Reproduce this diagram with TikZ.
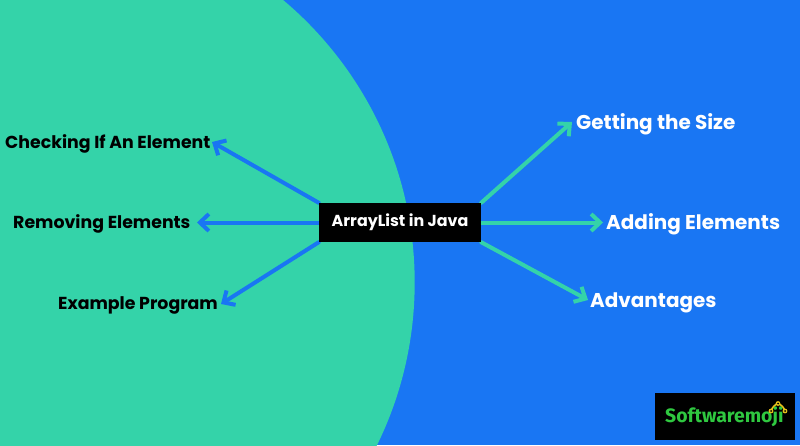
\documentclass[tikz,border=0pt]{standalone}
\usepackage{fontspec}
\setmainfont{Poppins}
\newfontfamily\logofont{Fira Sans}
\usetikzlibrary{arrows.meta}
\definecolor{bluebg}{HTML}{1976F3}
\definecolor{teal}{HTML}{34D3A9}
\definecolor{logogreen}{HTML}{2FC840}
\definecolor{logoyellow}{HTML}{E8C21A}
\pgfdeclarelayer{bg}
\pgfdeclarelayer{arrowlayer}
\pgfsetlayers{bg,arrowlayer,main}
\tikzset{
  lblblack/.style={font=\bfseries\fontsize{17.35}{20}\selectfont, inner sep=0pt, anchor=mid west, text=black},
  lblwhite/.style={font=\bfseries\fontsize{19.95}{22}\selectfont, inner sep=0pt, anchor=mid west, text=white},
  bluearrow/.style={draw=bluebg, line width=4pt, -{Straight Barb[length=9pt,width=17pt,line width=4pt]}, line cap=round},
  tealarrow/.style={draw=teal, line width=4pt, -{Straight Barb[length=9pt,width=17pt,line width=4pt]}, line cap=round},
}
\begin{document}
\begin{tikzpicture}[x=1pt,y=-1pt]
\useasboundingbox (0,0) rectangle (800,445);
\begin{pgfonlayer}{bg}
\fill[bluebg] (0,0) rectangle (800,445);
\begin{scope}
\clip (0,0) rectangle (800,445);
\fill[teal] (45.7,282.5) circle [radius=369pt];
\end{scope}
\end{pgfonlayer}
\node[fill=black, minimum width=162pt, minimum height=39pt, inner sep=0pt, text=white, font=\bfseries\fontsize{15.9}{18}\selectfont] (box) at (400,222.5) {ArrayList in Java};
\node[lblblack] (chk) at (5,146) {Checking If An Element};
\node[lblblack] (rem) at (13,225.5) {Removing Elements};
\node[lblblack] (exa) at (58,307) {Example Program};
\node[lblwhite] (get) at (576,126.5) {Getting the Size};
\node[lblwhite] (add) at (606,226.5) {Adding Elements};
\node[lblwhite] (adv) at (590,304.5) {Advantages};
\coordinate (tchk) at (212,142);
\coordinate (trem) at (197,222.5);
\coordinate (texa) at (221,304);
\coordinate (tget) at (572,122);
\coordinate (tadd) at (603,222.5);
\coordinate (tadv) at (588,300);
\begin{pgfonlayer}{arrowlayer}
\draw[bluearrow] (box.north west) -- (tchk);
\draw[bluearrow] (box.west) -- (trem);
\draw[bluearrow] (box.south west) -- (texa);
\draw[tealarrow] (box.north east) -- (tget);
\draw[tealarrow] (box.east) -- (tadd);
\draw[tealarrow] (box.south east) -- (tadv);
\end{pgfonlayer}
\node[fill=black, minimum width=140pt, minimum height=47pt, inner sep=0pt] (logo) at (725,416.5) {};
\node[inner sep=0pt, anchor=mid west, text=logogreen, font=\logofont\bfseries\fontsize{19.4}{24}\selectfont] (logotext) at (665,419.5) {Softwaremoji};
\draw[logoyellow, line width=1.5pt] (771,411) to[bend left=25] (778,403.5) to[bend left=25] (785,411);
\fill[logoyellow] (771,411) circle [radius=2.4pt] (778,403.5) circle [radius=2.4pt] (785,411) circle [radius=2.4pt];
\fill[black] (771,411) circle [radius=1pt] (778,403.5) circle [radius=1pt] (785,411) circle [radius=1pt];
\end{tikzpicture}
\end{document}
